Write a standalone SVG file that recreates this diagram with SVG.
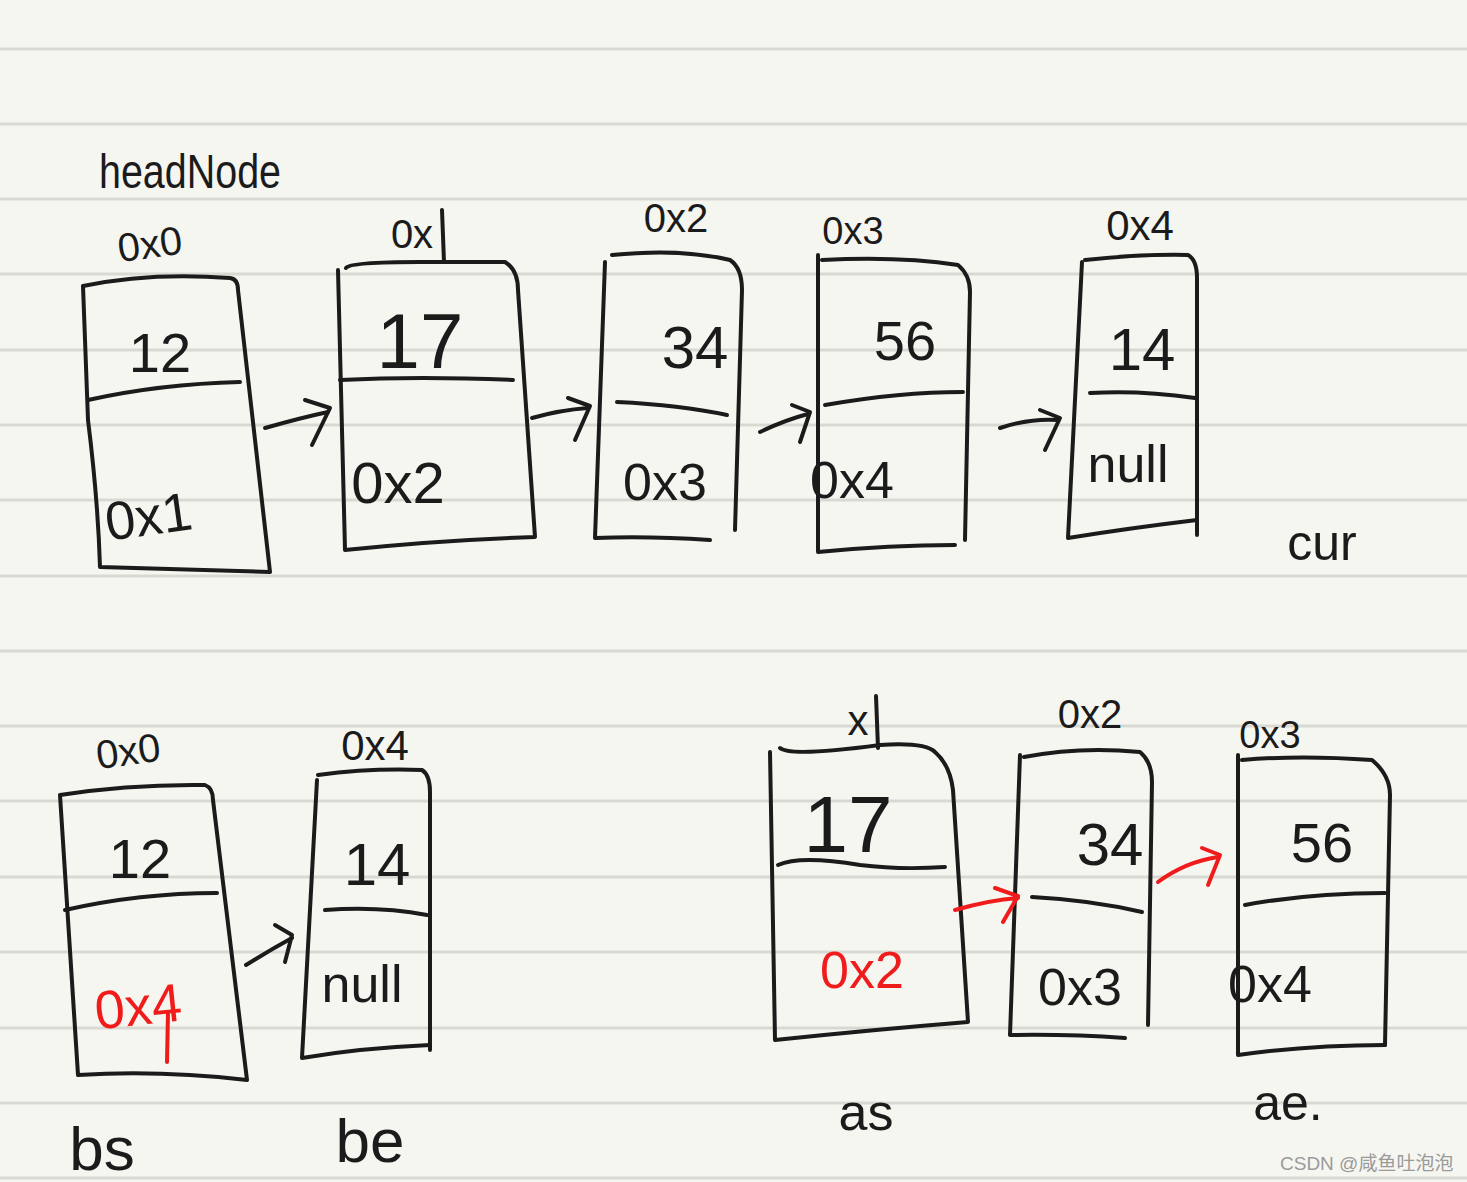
<svg xmlns="http://www.w3.org/2000/svg" width="1467" height="1182" viewBox="0 0 1467 1182">
<defs>
<style>
.ln{stroke:#d9d9d3;stroke-width:3}
.s{fill:none;stroke:#1b1b1b;stroke-width:4;stroke-linecap:round;stroke-linejoin:round}
.r{fill:none;stroke:#f01c1c;stroke-width:4;stroke-linecap:round;stroke-linejoin:round}
.t{font-family:"Liberation Sans",Arial,sans-serif;fill:#1b1b1b;text-anchor:middle}
.rt{font-family:"Liberation Sans",Arial,sans-serif;fill:#f01c1c;text-anchor:middle}
.wm{font-family:"Liberation Sans","Noto Sans CJK SC",sans-serif;fill:#9a9a9a;font-size:19px}
</style>
</defs>
<rect width="1467" height="1182" fill="#f6f6f1"/>
<g id="paper-lines">
<line class="ln" x1="0" y1="49" x2="1467" y2="49"/>
<line class="ln" x1="0" y1="124" x2="1467" y2="124"/>
<line class="ln" x1="0" y1="199" x2="1467" y2="199"/>
<line class="ln" x1="0" y1="274" x2="1467" y2="274"/>
<line class="ln" x1="0" y1="350" x2="1467" y2="350"/>
<line class="ln" x1="0" y1="425" x2="1467" y2="425"/>
<line class="ln" x1="0" y1="500" x2="1467" y2="500"/>
<line class="ln" x1="0" y1="576" x2="1467" y2="576"/>
<line class="ln" x1="0" y1="651" x2="1467" y2="651"/>
<line class="ln" x1="0" y1="726" x2="1467" y2="726"/>
<line class="ln" x1="0" y1="801" x2="1467" y2="801"/>
<line class="ln" x1="0" y1="877" x2="1467" y2="877"/>
<line class="ln" x1="0" y1="952" x2="1467" y2="952"/>
<line class="ln" x1="0" y1="1028" x2="1467" y2="1028"/>
<line class="ln" x1="0" y1="1103" x2="1467" y2="1103"/>
<line class="ln" x1="0" y1="1178" x2="1467" y2="1178"/>
</g>

<text class="t" x="190" y="188" font-size="48" textLength="182" lengthAdjust="spacingAndGlyphs">headNode</text>

<g id="node-top-0x0">
<text class="t" x="150" y="258" font-size="40" transform="rotate(-8 150 245)">0x0</text>
<path class="s" d="M83 286 Q150 272 230 278 Q238 279 238 290 L270 572 L100 567 Q98 500 88 420 L83 286"/>
<path class="s" d="M88 400 Q160 384 240 382"/>
<text class="t" x="160" y="372" font-size="56">12</text>
<text class="t" x="148" y="535" font-size="54" transform="rotate(-8 148 512)">0x1</text>
</g>

<g id="node-top-0x1">
<text class="t" x="412" y="248" font-size="40">0x</text>
<path class="s" d="M442 210 L444 262"/>
<path class="s" d="M346 268 Q350 262 420 262 L505 262 Q518 270 518 290 L535 537 Q440 540 345 550 L338 270"/>
<path class="s" d="M340 380 Q420 376 513 380"/>
<text class="t" x="420" y="368" font-size="78">17</text>
<text class="t" x="398" y="503" font-size="58">0x2</text>
</g>

<g id="node-top-0x2">
<text class="t" x="676" y="232" font-size="40">0x2</text>
<path class="s" d="M605 262 L595 538 Q650 536 710 540"/>
<path class="s" d="M612 255 Q680 248 730 260 Q742 268 742 290 L735 530"/>
<path class="s" d="M617 402 Q680 405 727 415"/>
<text class="t" x="695" y="368" font-size="60">34</text>
<text class="t" x="665" y="500" font-size="52">0x3</text>
</g>

<g id="node-top-0x3">
<text class="t" x="853" y="244" font-size="38">0x3</text>
<path class="s" d="M818 255 L818 552 Q890 545 955 545"/>
<path class="s" d="M822 260 Q900 256 958 265 Q970 275 970 292 L965 540"/>
<path class="s" d="M825 405 Q900 392 963 392"/>
<text class="t" x="905" y="360" font-size="56">56</text>
<text class="t" x="852" y="498" font-size="52">0x4</text>
</g>

<g id="node-top-0x4">
<text class="t" x="1140" y="240" font-size="42">0x4</text>
<path class="s" d="M1082 262 L1068 538 Q1130 528 1197 520"/>
<path class="s" d="M1085 260 Q1140 254 1188 255 Q1197 260 1197 278 L1197 535"/>
<path class="s" d="M1090 393 Q1140 390 1195 398"/>
<text class="t" x="1142" y="370" font-size="60">14</text>
<text class="t" x="1128" y="482" font-size="52">null</text>
</g>

<text class="t" x="1322" y="560" font-size="50">cur</text>

<g id="node-bot-0x0">
<text class="t" x="128" y="765" font-size="40" transform="rotate(-8 128 750)">0x0</text>
<path class="s" d="M60 795 Q130 784 205 785 Q213 788 213 800 L247 1080 Q160 1070 78 1075 L60 795"/>
<path class="s" d="M65 910 Q140 893 217 893"/>
<text class="t" x="140" y="878" font-size="56">12</text>
<text class="rt" x="138" y="1025" font-size="54" transform="rotate(-6 138 1005)">0x4</text>
<path class="r" d="M168 1012 L167 1062"/>
</g>

<g id="node-bot-0x4">
<text class="t" x="375" y="760" font-size="42">0x4</text>
<path class="s" d="M317 780 L302 1058 Q360 1048 430 1045"/>
<path class="s" d="M318 775 Q370 768 422 770 Q430 775 430 792 L430 1050"/>
<path class="s" d="M325 910 Q380 906 427 915"/>
<text class="t" x="377" y="885" font-size="60">14</text>
<text class="t" x="362" y="1002" font-size="52">null</text>
</g>

<text class="t" x="102" y="1170" font-size="62">bs</text>
<text class="t" x="370" y="1162" font-size="62">be</text>

<g id="node-bot-x1">
<text class="t" x="858" y="735" font-size="42">x</text>
<path class="s" d="M876 696 L878 748"/>
<path class="s" d="M780 748 Q790 757 880 745 Q925 742 935 752 Q950 765 953 790 L968 1022 Q870 1030 775 1040 L770 752"/>
<path class="s" d="M778 865 Q800 855 860 865 Q900 870 945 867"/>
<text class="t" x="848" y="852" font-size="80">17</text>
<text class="rt" x="862" y="988" font-size="52">0x2</text>
</g>

<g id="node-bot-0x2">
<text class="t" x="1090" y="728" font-size="40">0x2</text>
<path class="s" d="M1020 755 L1010 1035 Q1070 1034 1125 1038"/>
<path class="s" d="M1024 757 Q1080 746 1140 752 Q1152 762 1152 782 L1148 1025"/>
<path class="s" d="M1032 897 Q1090 900 1142 912"/>
<text class="t" x="1110" y="865" font-size="60">34</text>
<text class="t" x="1080" y="1005" font-size="52">0x3</text>
</g>

<g id="node-bot-0x3">
<text class="t" x="1270" y="748" font-size="38">0x3</text>
<path class="s" d="M1238 755 L1238 1055 Q1310 1045 1385 1045"/>
<path class="s" d="M1242 760 Q1300 755 1372 760 Q1390 775 1390 795 L1385 1045"/>
<path class="s" d="M1245 905 Q1310 893 1385 893"/>
<text class="t" x="1322" y="862" font-size="56">56</text>
<text class="t" x="1270" y="1002" font-size="52">0x4</text>
</g>

<text class="t" x="866" y="1130" font-size="52">as</text>
<text class="t" x="1288" y="1120" font-size="50">ae.</text>

<g id="connectors">
<path class="s" d="M265 428 Q300 418 328 412"/>
<path class="s" d="M305 400 L330 408 L312 445"/>
<path class="s" d="M532 418 Q560 410 588 408"/>
<path class="s" d="M568 398 L590 406 L575 440"/>
<path class="s" d="M760 432 Q785 420 808 414"/>
<path class="s" d="M792 405 L810 412 L800 442"/>
<path class="s" d="M1000 428 Q1030 418 1058 420"/>
<path class="s" d="M1040 410 L1060 418 L1045 450"/>
<path class="s" d="M246 965 Q270 950 292 938"/>
<path class="s" d="M275 925 L292 935 L285 962"/>
<path class="r" d="M955 910 Q990 900 1018 898"/>
<path class="r" d="M995 888 L1018 896 L1003 922"/>
<path class="r" d="M1158 882 Q1185 862 1218 857"/>
<path class="r" d="M1202 848 L1220 855 L1208 885"/>
</g>

<text class="wm" x="1280" y="1170">CSDN @咸鱼吐泡泡</text>
</svg>
